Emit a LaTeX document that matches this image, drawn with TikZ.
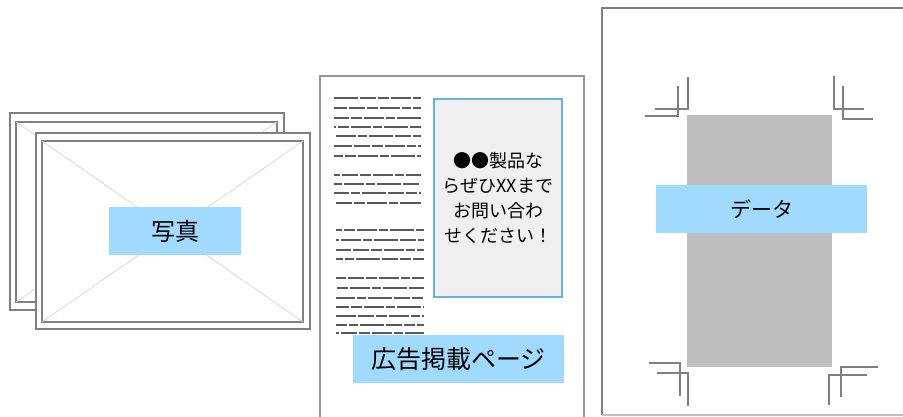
\documentclass[tikz,border=0pt]{standalone}
\usepackage{fontspec}
\setmainfont{Noto Sans CJK JP}
\usetikzlibrary{positioning}

\definecolor{labelblue}{HTML}{A0DBFF}
\definecolor{framegray}{HTML}{808080}
\definecolor{crossgray}{HTML}{D9D9D9}
\definecolor{boxblue}{HTML}{66B3E3}
\definecolor{boxfill}{HTML}{F0F0F0}
\definecolor{datagray}{HTML}{BDBEBD}
\definecolor{linegray}{HTML}{595959}
\definecolor{pagegray}{HTML}{969696}

\tikzset{
  outerframe/.style={draw=framegray, line width=2.5pt, fill=white, inner sep=0, outer sep=0, anchor=north west},
  innerframe/.style={draw=framegray, line width=1.7pt, inner sep=0, outer sep=0, anchor=north west},
  cross/.style={draw=crossgray, line width=0.8pt},
  tag/.style={fill=labelblue, inner sep=0, outer sep=0, font=\fontsize{24}{24}\selectfont},
  textline/.style={draw=linegray, line width=2.8pt,
    dash pattern=on 24pt off 2pt on 16pt off 2pt on 11pt off 2pt on 20pt off 2pt on 9pt off 2pt},
  trim/.style={draw=framegray, line width=1.7pt},
}

\begin{document}
\begin{tikzpicture}[x=1pt,y=-1pt]
\clip (0,0) rectangle (903,416);

% Photo frames
\node[outerframe, minimum width=274pt, minimum height=197pt] (backout) at (10,113) {};
\node[innerframe, minimum width=261pt, minimum height=180pt] (backin) at (16,122) {};
\draw[cross] (backin.north west) -- (backin.south east);
\draw[cross] (backin.north east) -- (backin.south west);
\node[outerframe, minimum width=274pt, minimum height=196pt] (frontout) at (36,133) {};
\node[innerframe, minimum width=261pt, minimum height=181pt] (frontin) at (42,141) {};
\draw[cross] (frontin.north west) -- (frontin.south east);
\draw[cross] (frontin.north east) -- (frontin.south west);
\node[tag, minimum width=132pt, minimum height=48pt] (photo) at (175,231) {写真};

% Ad page
\draw[draw=pagegray, line width=1.8pt] (320,430) -- (320,76) -- (584,76) -- (584,430);
\foreach \y/\ph in {98/0,108/11,118/27,127/40,136/55,146/6,156/33,
                    175/18,184/47,193/62,203/24}
  \draw[textline, dash phase=\ph pt] (334,\y) -- (421,\y);
\foreach \y/\ph in {230/36,240/52,250/9,259/70,
                    278/14,288/43,298/58,307/29,316/4,325/66,333/21}
  \draw[textline, dash phase=\ph pt] (336,\y) -- (424,\y);
\node[draw=boxblue, fill=boxfill, line width=1.6pt, inner sep=0, outer sep=0,
      minimum width=128pt, minimum height=198pt] (adbox) at (498,198) {};
\node[align=center, font=\fontsize{18}{25}\selectfont] (adtext) at (adbox.center)
  {●●製品な\\らぜひXXまで\\お問い合わ\\せください！};
\node[tag, minimum width=211pt, minimum height=48pt, font=\fontsize{25}{25}\selectfont] (adpage) at (458.5,359) {広告掲載ページ};

% Data page
\draw[draw=framegray, line width=1.8pt] (920,8) -- (602,8) -- (602,415);
\draw[draw=pagegray!60, line width=1.6pt] (602,415) -- (920,415);
\node[fill=datagray, inner sep=0, outer sep=0, minimum width=145pt, minimum height=252pt] (dataarea) at (759.5,241) {};
\node[tag, minimum width=211pt, minimum height=48pt, font=\fontsize{21}{21}\selectfont] (data) at (761.5,209) {データ};

% Trim marks
\draw[trim] (688,77) -- (688,109) -- (655,109);
\draw[trim] (678,86) -- (678,116) -- (645,116);
\draw[trim] (834,76) -- (834,109) -- (864,109);
\draw[trim] (843,86) -- (843,119) -- (873,119);
\draw[trim] (649,363) -- (680,363) -- (680,396);
\draw[trim] (657,373) -- (688,373) -- (688,406);
\draw[trim] (878,367) -- (841,367) -- (841,397);
\draw[trim] (867,375) -- (829,375) -- (829,405);
\end{tikzpicture}
\end{document}
